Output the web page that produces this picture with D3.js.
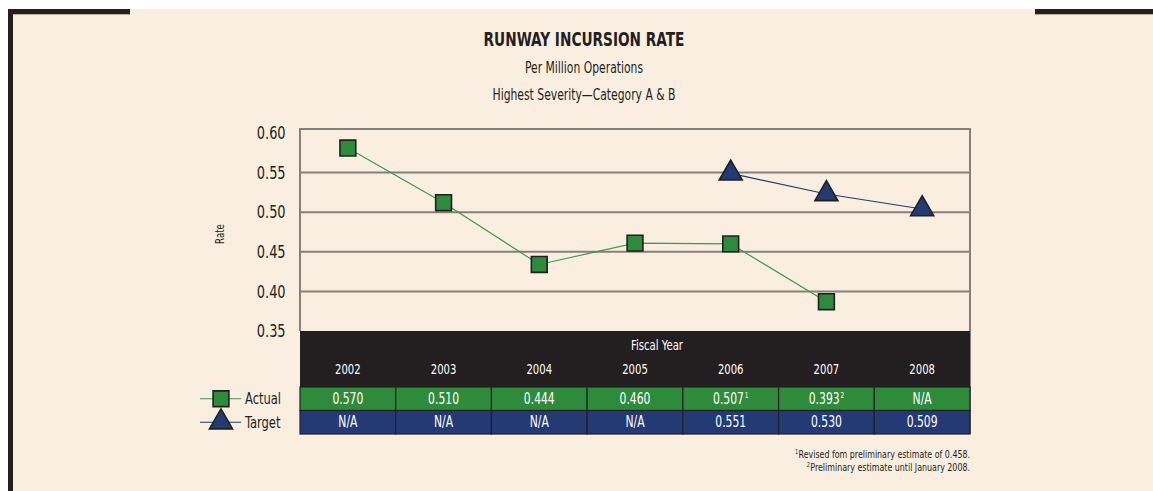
<!DOCTYPE html>
<html>
<head>
<meta charset="utf-8">
<script src="https://cdn.jsdelivr.net/npm/d3@7"></script>
<style>
  body { margin: 0; background: #fff; }
  svg text { font-family: 'DejaVu Sans Condensed', 'DejaVu Sans', sans-serif; }
</style>
</head>
<body>
<div id="chart"></div>
<script>
// chart data
const years = ["2002", "2003", "2004", "2005", "2006", "2007", "2008"];
const actualRates = [0.581, 0.512, 0.434, 0.461, 0.460, 0.387, null];   // plotted points
const targetRates = [null, null, null, null, 0.549, 0.523, 0.504];
const actualLabels = ["0.570", "0.510", "0.444", "0.460", "0.507", "0.393", "N/A"];
const actualNotes = ["", "", "", "", "1", "2", ""];
const targetLabels = ["N/A", "N/A", "N/A", "N/A", "0.551", "0.530", "0.509"];
const yTicks = [0.35, 0.40, 0.45, 0.50, 0.55, 0.60];
const footnotes = [
    {mark: "1", text: "Revised fom preliminary estimate of 0.458."},
    {mark: "2", text: "Preliminary estimate until January 2008."}
];

const W = 1153, H = 491;
const colors = {bg: "#faeee0", dark: "#231f20", grid: "#85807b", green: "#2e8b3b", blue: "#233a75", line: "#3d9b4a", text: "#231f20"};

const plot = {left: 300, right: 970, top: 133, bottom: 331};
const rows = {head: 56, row: 23.5};

const svg = d3.select("#chart").append("svg")
    .attr("width", W)
    .attr("height", H);

// page background and the black corner bars
svg.append("rect").attr("x", 8).attr("y", 9).attr("width", W - 8).attr("height", H - 9).attr("fill", colors.bg);
svg.append("rect").attr("x", 8).attr("y", 9).attr("width", 5).attr("height", H - 9).attr("fill", colors.dark);
svg.append("rect").attr("x", 8).attr("y", 9).attr("width", 122).attr("height", 5).attr("fill", colors.dark);
svg.append("rect").attr("x", 1035).attr("y", 9).attr("width", W - 1035).attr("height", 5).attr("fill", colors.dark);
svg.append("line").attr("x1", 13).attr("x2", 130).attr("y1", 14.5).attr("y2", 14.5).attr("stroke", "#bca995").attr("stroke-width", 1);
svg.append("line").attr("x1", 1035).attr("x2", W).attr("y1", 14.5).attr("y2", 14.5).attr("stroke", "#bca995").attr("stroke-width", 1);

// titles
const cx = 584;
svg.append("text").attr("class", "sq").attr("x", cx).attr("y", 46).attr("text-anchor", "middle")
    .attr("font-size", 19).attr("font-weight", "bold").attr("fill", colors.text)
    .text("RUNWAY INCURSION RATE");
svg.append("text").attr("class", "sq").attr("x", cx).attr("y", 73).attr("text-anchor", "middle")
    .attr("font-size", 15).attr("fill", colors.text)
    .text("Per Million Operations");
svg.append("text").attr("class", "sq").attr("x", cx).attr("y", 100).attr("text-anchor", "middle")
    .attr("font-size", 15).attr("fill", colors.text)
    .text("Highest Severity\u2014Category A & B");

// scales
const x = d3.scaleBand().domain(years).range([plot.left, plot.right]);
const y = d3.scaleLinear().domain([0.35, 0.60]).range([plot.bottom, plot.top]);

// gridlines
svg.append("g")
    .selectAll("line")
    .data(yTicks.slice(1, -1))
    .join("line")
    .attr("x1", plot.left).attr("x2", plot.right)
    .attr("y1", d => y(d)).attr("y2", d => y(d))
    .attr("stroke", colors.grid).attr("stroke-width", 2);

// frame
svg.append("path")
    .attr("d", `M${plot.left},${plot.bottom}V${y(0.605)}H${plot.right}V${plot.bottom + rows.head + 2 * rows.row}`)
    .attr("fill", "none").attr("stroke", colors.grid).attr("stroke-width", 2);

// y axis labels
const yAxis = svg.append("g")
    .attr("transform", `translate(${plot.left - 12},0)`)
    .call(d3.axisLeft(y).tickValues(yTicks).tickFormat(d3.format(".2f")).tickSize(0));
yAxis.select(".domain").remove();
yAxis.selectAll("text")
    .attr("font-size", 18).attr("fill", colors.text)
    .attr("font-family", "'DejaVu Sans Condensed', sans-serif")
    .attr("transform", "scale(0.8,1)");

svg.append("text").attr("class", "sq")
    .attr("transform", `translate(224,${(plot.top + plot.bottom) / 2 + 2}) rotate(-90)`)
    .attr("text-anchor", "middle").attr("font-size", 12).attr("fill", colors.text)
    .text("Rate");

// table
const tTop = plot.bottom;
svg.append("rect").attr("x", plot.left).attr("y", tTop)
    .attr("width", plot.right - plot.left).attr("height", rows.head).attr("fill", colors.dark);
svg.append("text").attr("class", "sq").attr("x", (plot.left + plot.right) / 2 + 22).attr("y", tTop + 19)
    .attr("text-anchor", "middle").attr("font-size", 14).attr("fill", "#fff")
    .text("Fiscal Year");
svg.append("g").selectAll("text")
    .data(years)
    .join("text")
    .attr("class", "sq")
    .attr("x", d => x(d) + x.bandwidth() / 2)
    .attr("y", tTop + 43)
    .attr("text-anchor", "middle").attr("font-size", 14).attr("fill", "#fff")
    .text(d => d);

const tableRows = [
    {labels: actualLabels, notes: actualNotes, fill: colors.green},
    {labels: targetLabels, notes: years.map(() => ""), fill: colors.blue}
];
tableRows.forEach((r, i) => {
    const top = tTop + rows.head + i * rows.row;
    const g = svg.append("g");
    g.selectAll("rect")
        .data(years)
        .join("rect")
        .attr("x", d => x(d)).attr("y", top)
        .attr("width", x.bandwidth()).attr("height", rows.row)
        .attr("fill", r.fill).attr("stroke", colors.dark).attr("stroke-width", 1.2);
    const t = g.selectAll("text")
        .data(years)
        .join("text")
        .attr("x", d => x(d) + x.bandwidth() / 2)
        .attr("y", top + 17)
        .attr("text-anchor", "middle").attr("font-size", 15).attr("fill", "#fff")
        .attr("transform", d => `translate(${(x(d) + x.bandwidth() / 2) * 0.2},0) scale(0.8,1)`);
    t.append("tspan").text((d, j) => r.labels[j]);
    t.append("tspan").attr("font-size", 8).attr("dx", 1).attr("dy", -6).text((d, j) => r.notes[j]);
});

// lines and markers
const actual = years.map((d, i) => ({year: d, v: actualRates[i]})).filter(d => d.v != null);
const target = years.map((d, i) => ({year: d, v: targetRates[i]})).filter(d => d.v != null);
const lineGen = d3.line().x(d => x(d.year) + x.bandwidth() / 2).y(d => y(d.v));

svg.append("path").datum(actual).attr("d", lineGen)
    .attr("fill", "none").attr("stroke", colors.line).attr("stroke-width", 1.2);
svg.append("path").datum(target).attr("d", lineGen)
    .attr("fill", "none").attr("stroke", colors.blue).attr("stroke-width", 1.2);

const sq = d3.symbol().type(d3.symbolSquare).size(250);
const tri = d3.symbol().type(d3.symbolTriangle).size(230);

svg.append("g").selectAll("path")
    .data(actual)
    .join("path")
    .attr("transform", d => `translate(${x(d.year) + x.bandwidth() / 2},${y(d.v)})`)
    .attr("d", sq)
    .attr("fill", colors.green).attr("stroke", colors.dark).attr("stroke-width", 1.6);
svg.append("g").selectAll("path")
    .data(target)
    .join("path")
    .attr("transform", d => `translate(${x(d.year) + x.bandwidth() / 2},${y(d.v)})`)
    .attr("d", tri)
    .attr("fill", colors.blue).attr("stroke", colors.dark).attr("stroke-width", 1.6);

// legend
const legend = [
    {name: "Actual", sym: sq, fill: colors.green, stroke: colors.line},
    {name: "Target", sym: tri, fill: colors.blue, stroke: colors.blue}
];
legend.forEach((l, i) => {
    const ly = tTop + rows.head + i * rows.row + rows.row / 2;
    svg.append("line").attr("x1", 200).attr("x2", 241).attr("y1", ly).attr("y2", ly)
        .attr("stroke", l.stroke).attr("stroke-width", 1.2);
    svg.append("path").attr("transform", `translate(221,${ly})`).attr("d", l.sym)
        .attr("fill", l.fill).attr("stroke", colors.dark).attr("stroke-width", 1.6);
    svg.append("text").attr("class", "sq").attr("x", 245).attr("y", ly + 5.5)
        .attr("font-size", 16).attr("fill", colors.text).text(l.name);
});

// footnotes
svg.append("g").selectAll("text")
    .data(footnotes)
    .join("text")
    .attr("x", plot.right)
    .attr("y", (d, i) => 458 + i * 13)
    .attr("text-anchor", "end").attr("font-size", 11).attr("fill", colors.text)
    .attr("transform", `translate(${plot.right * 0.2},0) scale(0.8,1)`)
    .call(t => {
        t.append("tspan").attr("font-size", 7).attr("dy", -4).text(d => d.mark);
        t.append("tspan").attr("dx", 0.5).attr("dy", 4).text(d => d.text);
    });

// the original uses a condensed face; squeeze the plain labels horizontally
svg.selectAll("text.sq").each(function() {
    const len = this.getComputedTextLength();
    if (len > 0) d3.select(this).attr("textLength", len * 0.8).attr("lengthAdjust", "spacingAndGlyphs");
});
</script>
</body>
</html>
